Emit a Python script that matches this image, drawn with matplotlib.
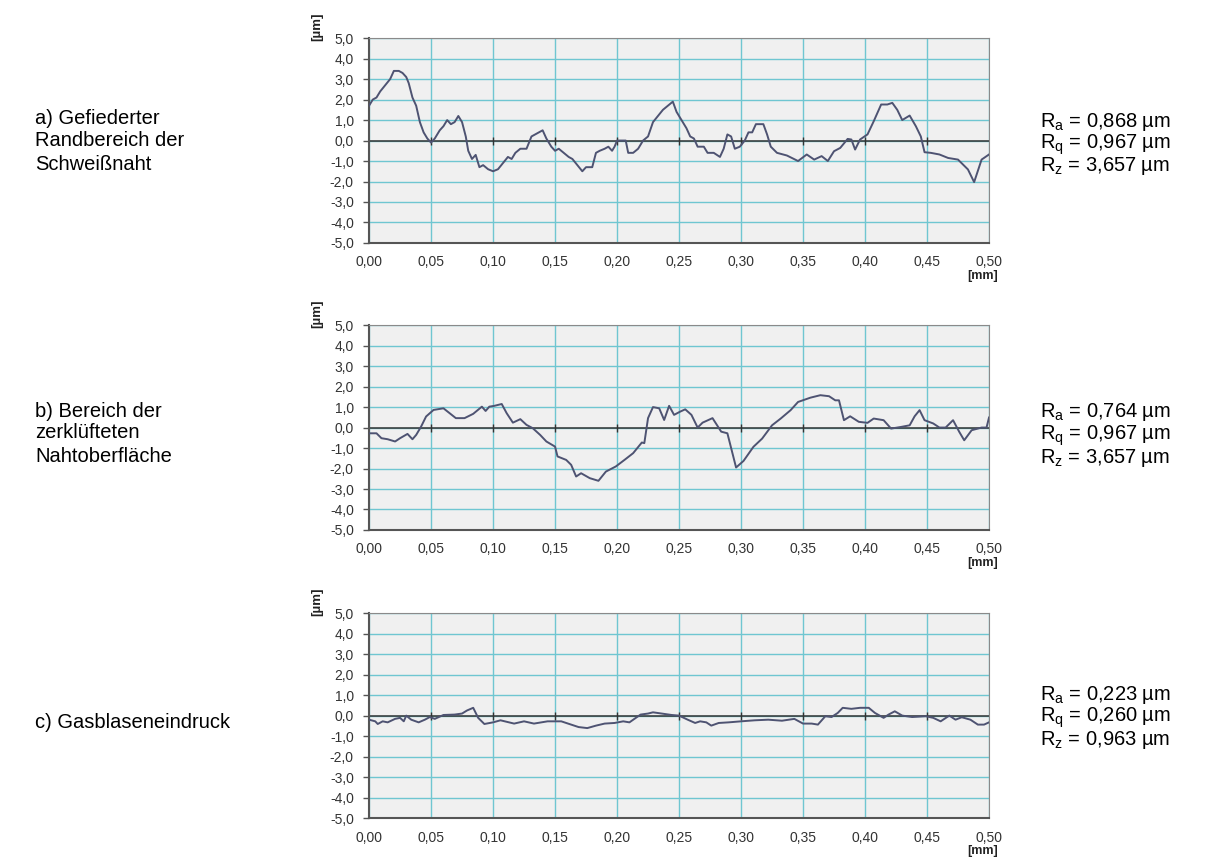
import numpy as np
import matplotlib.pyplot as plt

plt.rcParams['font.family'] = ['Liberation Sans', 'DejaVu Sans']
plt.rcParams['mathtext.fontset'] = 'custom'
plt.rcParams['mathtext.rm'] = 'Liberation Sans'

# Profil a) Gefiederter Randbereich
xa = [0.000, 0.003, 0.006, 0.009, 0.013, 0.017, 0.020, 0.024, 0.027, 0.030,
      0.032, 0.035, 0.038, 0.041, 0.044, 0.047, 0.050, 0.053, 0.057, 0.060,
      0.063, 0.066, 0.069, 0.072, 0.075, 0.078, 0.080, 0.083, 0.086, 0.089,
      0.092, 0.096, 0.100, 0.104, 0.108, 0.112, 0.115, 0.118, 0.122, 0.127,
      0.131, 0.134, 0.137, 0.140, 0.143, 0.147, 0.150, 0.153, 0.157, 0.161,
      0.164, 0.168, 0.172, 0.175, 0.180, 0.183, 0.186, 0.190, 0.193, 0.196,
      0.198, 0.200, 0.203, 0.207, 0.209, 0.213, 0.217, 0.221, 0.225, 0.229,
      0.233, 0.237, 0.241, 0.245, 0.248, 0.252, 0.256, 0.259, 0.262, 0.265,
      0.270, 0.273, 0.278, 0.283, 0.286, 0.289, 0.292, 0.295, 0.299, 0.303,
      0.306, 0.309, 0.312, 0.315, 0.318, 0.321, 0.324, 0.329, 0.337, 0.346,
      0.353, 0.359, 0.365, 0.370, 0.375, 0.380, 0.386, 0.389, 0.392, 0.396,
      0.402, 0.407, 0.413, 0.418, 0.422, 0.426, 0.430, 0.436, 0.441, 0.445,
      0.448, 0.453, 0.460, 0.467, 0.475, 0.483, 0.488, 0.494, 0.500]
ya = [1.7, 2.0, 2.1, 2.4, 2.7, 3.0, 3.4, 3.4, 3.3, 3.1,
      2.8, 2.1, 1.7, 0.9, 0.4, 0.1, -0.1, 0.1, 0.5, 0.7,
      1.0, 0.8, 0.9, 1.2, 0.9, 0.2, -0.5, -0.9, -0.7, -1.3,
      -1.2, -1.4, -1.5, -1.4, -1.1, -0.8, -0.9, -0.6, -0.4, -0.4,
      0.2, 0.3, 0.4, 0.5, 0.1, -0.3, -0.5, -0.4, -0.6, -0.8,
      -0.9, -1.2, -1.5, -1.3, -1.3, -0.6, -0.5, -0.4, -0.3, -0.5,
      -0.3, 0.0, 0.0, 0.0, -0.6, -0.6, -0.4, 0.0, 0.2, 0.9,
      1.2, 1.5, 1.7, 1.9, 1.4, 1.0, 0.6, 0.2, 0.1, -0.3,
      -0.3, -0.6, -0.6, -0.8, -0.4, 0.3, 0.2, -0.4, -0.3, 0.0,
      0.4, 0.4, 0.8, 0.8, 0.8, 0.3, -0.3, -0.6, -0.73, -1.0,
      -0.68, -0.93, -0.76, -1.0, -0.52, -0.36, 0.08, 0.05, -0.44, 0.05,
      0.3, 0.94, 1.76, 1.76, 1.84, 1.5, 1.0, 1.22, 0.7, 0.2,
      -0.57, -0.6, -0.68, -0.85, -0.93, -1.41, -2.03, -0.93, -0.68]

# Profil b) zerklüftete Nahtoberfläche
xb = [0.000, 0.006, 0.010, 0.015, 0.021, 0.025, 0.031, 0.035, 0.038, 0.042,
      0.046, 0.052, 0.060, 0.065, 0.070, 0.077, 0.084, 0.091, 0.094, 0.097,
      0.101, 0.107, 0.111, 0.116, 0.122, 0.127, 0.132, 0.138, 0.143, 0.150,
      0.152, 0.159, 0.163, 0.167, 0.171, 0.178, 0.185, 0.191, 0.199, 0.206,
      0.213, 0.220, 0.222, 0.225, 0.229, 0.234, 0.238, 0.242, 0.246, 0.251,
      0.255, 0.260, 0.265, 0.269, 0.277, 0.284, 0.289, 0.296, 0.302, 0.310,
      0.317, 0.325, 0.332, 0.340, 0.346, 0.356, 0.364, 0.371, 0.376, 0.379,
      0.383, 0.388, 0.395, 0.402, 0.407, 0.415, 0.421, 0.429, 0.436, 0.440,
      0.444, 0.448, 0.455, 0.460, 0.465, 0.471, 0.476, 0.480, 0.486, 0.494,
      0.498, 0.500]
yb = [-0.28, -0.28, -0.52, -0.57, -0.68, -0.52, -0.31, -0.57, -0.36, 0.05,
      0.54, 0.86, 0.94, 0.7, 0.46, 0.46, 0.67, 1.02, 0.81, 1.02,
      1.06, 1.15, 0.7, 0.24, 0.41, 0.13, -0.03, -0.36, -0.68, -0.93,
      -1.41, -1.58, -1.82, -2.39, -2.23, -2.47, -2.6, -2.15, -1.9, -1.58,
      -1.25, -0.73, -0.76, 0.46, 1.0, 0.94, 0.37, 1.06, 0.62, 0.78,
      0.89, 0.62, 0.0, 0.24, 0.46, -0.2, -0.28, -1.95, -1.63, -0.94,
      -0.54, 0.11, 0.44, 0.85, 1.25, 1.46, 1.58, 1.53, 1.33, 1.33,
      0.36, 0.55, 0.28, 0.23, 0.44, 0.36, -0.05, 0.03, 0.11, 0.55,
      0.85, 0.36, 0.2, 0.0, 0.0, 0.36, -0.21, -0.62, -0.13, 0.0,
      0.0, 0.49]

# Profil c) Gasblaseneindruck
xc = [0.000, 0.005, 0.007, 0.011, 0.015, 0.021, 0.025, 0.028, 0.030, 0.034,
      0.040, 0.045, 0.049, 0.053, 0.060, 0.069, 0.075, 0.079, 0.084, 0.088,
      0.093, 0.100, 0.106, 0.117, 0.125, 0.133, 0.144, 0.155, 0.163, 0.169,
      0.176, 0.183, 0.190, 0.198, 0.205, 0.210, 0.214, 0.219, 0.225, 0.229,
      0.236, 0.244, 0.250, 0.257, 0.263, 0.267, 0.272, 0.276, 0.282, 0.290,
      0.300, 0.311, 0.322, 0.333, 0.343, 0.350, 0.357, 0.362, 0.368, 0.373,
      0.378, 0.382, 0.389, 0.396, 0.403, 0.408, 0.415, 0.419, 0.424, 0.430,
      0.438, 0.449, 0.455, 0.461, 0.468, 0.473, 0.478, 0.485, 0.491, 0.496,
      0.500]
yc = [-0.2, -0.28, -0.41, -0.28, -0.33, -0.16, -0.11, -0.28, 0.0, -0.2,
      -0.33, -0.2, -0.07, -0.16, 0.03, 0.05, 0.1, 0.25, 0.38, -0.11,
      -0.41, -0.33, -0.23, -0.39, -0.28, -0.39, -0.28, -0.28, -0.44, -0.56,
      -0.61, -0.49, -0.39, -0.36, -0.28, -0.33, -0.16, 0.05, 0.1, 0.16,
      0.1, 0.03, 0.0, -0.2, -0.36, -0.28, -0.33, -0.49, -0.36, -0.33,
      -0.28, -0.23, -0.2, -0.25, -0.16, -0.39, -0.39, -0.44, -0.03, -0.07,
      0.13, 0.38, 0.33, 0.38, 0.38, 0.13, -0.11, 0.05, 0.21, 0.0,
      -0.07, -0.03, -0.11, -0.28, 0.0, -0.2, -0.08, -0.2, -0.44, -0.44,
      -0.33]

labels = [['a) Gefiederter', 'Randbereich der', 'Schweißnaht'],
          ['b) Bereich der', 'zerklüfteten', 'Nahtoberfläche'],
          ['c) Gasblaseneindruck']]
ra = ['0,868', '0,764', '0,223']
rq = ['0,967', '0,967', '0,260']
rz = ['3,657', '3,657', '0,963']

xticks = np.round(np.arange(0, 0.501, 0.05), 2)
yticks = np.arange(-5, 6, 1)

W, H = 1218, 857
fig = plt.figure(figsize=(W / 100, H / 100), dpi=100)

profiles = [(xa, ya), (xb, yb), (xc, yc)]
bottoms = [0.7165, 0.3816, 0.0455]
# Zeilenmitten in Pixel (von oben)
left_rows = [[118, 141, 164], [411, 433, 456], [722]]
right_rows = [[122, 144, 166], [412, 435, 458], [695, 717, 740]]

for i, (x, y) in enumerate(profiles):
    ax = fig.add_axes([0.303, bottoms[i], 0.509, 0.239])
    ax.set_facecolor('#f0f0f0')
    ax.set_xlim(0, 0.5)
    ax.set_ylim(-5, 5)
    ax.set_xticks(xticks)
    ax.set_yticks(yticks)
    ax.set_xticklabels([f'{v:.2f}'.replace('.', ',') for v in xticks])
    ax.set_yticklabels([f'{v:.1f}'.replace('.', ',') for v in yticks])
    ax.grid(True, color='#6fc6d1', linewidth=1.0)
    ax.set_axisbelow(True)
    ax.axhline(0, color='#333333', linewidth=1.1, zorder=2)
    ax.scatter(xticks[1:-1], np.zeros(len(xticks) - 2), marker='|', s=30,
               color='#333333', linewidths=1.0, zorder=2)
    ax.plot(x, y, color='#4e5372', linewidth=1.4, zorder=3)

    ax.tick_params(axis='y', direction='out', length=4, width=1,
                   color='#555555', labelsize=10, labelcolor='#333333', pad=7)
    ax.tick_params(axis='x', length=0, labelsize=10, labelcolor='#333333', pad=9)
    for s in ['top', 'right']:
        ax.spines[s].set_color('#8a8a8a')
    for s in ['left', 'bottom']:
        ax.spines[s].set_color('#555555')
        ax.spines[s].set_linewidth(1.5)

    ax.text(-0.084, 0.985, '[µm]', transform=ax.transAxes, rotation=90,
            fontsize=9.5, fontweight='bold', color='#222222', ha='center', va='bottom')
    ax.text(0.99, -0.13, '[mm]', transform=ax.transAxes,
            fontsize=9, fontweight='bold', color='#222222', ha='center', va='top')

    for line, py in zip(labels[i], left_rows[i]):
        fig.text(35 / W, 1 - py / H, line, fontsize=14.5, ha='left', va='center')

    stats = [r'R$_\mathrm{a}$ = ' + ra[i] + ' µm',
             r'R$_\mathrm{q}$ = ' + rq[i] + ' µm',
             r'R$_\mathrm{z}$ = ' + rz[i] + ' µm']
    for line, py in zip(stats, right_rows[i]):
        fig.text(1040 / W, 1 - (py + 5) / H, line, fontsize=14.5, ha='left',
                 va='baseline')

fig.savefig('out.png', dpi=100)
